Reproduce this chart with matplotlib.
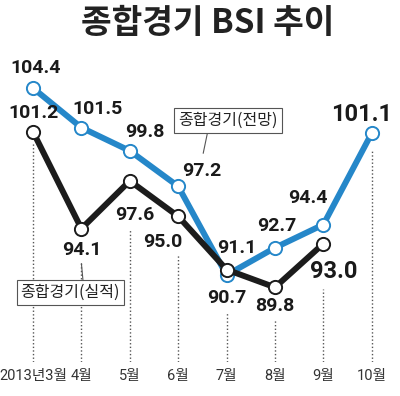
import matplotlib.pyplot as plt
from matplotlib.transforms import offset_copy

months = ['2013년3월', '4월', '5월', '6월', '7월', '8월', '9월', '10월']
forecast = [104.4, 101.5, 99.8, 97.2, 90.7, 92.7, 94.4, 101.1]   # 종합경기(전망)
actual = [101.2, 94.1, 97.6, 95.0, 91.1, 89.8, 93.0]            # 종합경기(실적)

BLUE = '#2587c9'
BLACK = '#1c1c1c'
NUM = ['Roboto', 'DejaVu Sans']
KR = ['Noto Sans CJK KR', 'DejaVu Sans']
TICK = ['Roboto', 'Noto Sans CJK KR']

fig = plt.figure(figsize=(4.0, 3.96), dpi=100)
ax = fig.add_axes([0, 34 / 396, 1, 1 - 34 / 396])
x = list(range(len(months)))
xa = x[:len(actual)]

ax.set_xlim(-0.682, 7.583)
ax.set_ylim(84.33, 110.85)
px = 362 / (110.85 - 84.33)   # pixels per unit

for s in ax.spines.values():
    s.set_visible(False)
ax.set_yticks([])
ax.set_xticks(x)
ax.set_xticklabels(months, family=TICK, fontsize=10.5, color='#333333')
ax.tick_params(axis='x', length=0, pad=5)

# dotted guides, starting below the lowest mark/label of each month
low = [min(f, a) for f, a in zip(forecast, actual)] + [forecast[-1]]
gap = [10, 32, 48, 38, 38, 32, 45, 17]
for i in x:
    ax.vlines(i, 84.33, low[i] - gap[i] / px, colors='#555555',
              linestyles=(0, (1, 1.6)), linewidth=1.0, zorder=1)

ax.plot(x, forecast, color=BLUE, lw=4.3, marker='o', ms=9.5,
        mfc='white', mec=BLUE, mew=1.4, zorder=3, solid_joinstyle='miter')
ax.plot(xa, actual, color=BLACK, lw=4.3, marker='o', ms=9.5,
        mfc='white', mec=BLACK, mew=1.4, zorder=4, solid_joinstyle='miter')

# value labels (offset in pixels, y up)
f_off = [(3, 20), (16, 19), (15, 19), (24, 15), (0, -23), (2, 22), (-16, 27), (-10, 19)]
a_off = [(0, 19), (0, -21), (5, -34), (-15, -26), (10, 22), (0, -19), (10, -28)]
for i, v in enumerate(forecast):
    big = i == len(forecast) - 1
    ax.annotate(f'{v:.1f}', (i, v), xytext=f_off[i], textcoords='offset pixels',
                ha='center', va='center', family=NUM, weight='bold',
                fontsize=17 if big else 14, color='#1a1a1a', zorder=5)
for i, v in enumerate(actual):
    big = i == len(actual) - 1
    ax.annotate(f'{v:.1f}', (i, v), xytext=a_off[i], textcoords='offset pixels',
                ha='center', va='center', family=NUM, weight='bold',
                fontsize=17 if big else 14, color='#1a1a1a', zorder=5)

# callout boxes
box = dict(boxstyle='square,pad=0.25', fc='white', ec='#555555', lw=0.8)
tip = offset_copy(ax.transData, fig, x=25, y=33, units='dots')
ax.annotate('종합경기(전망)', (3, forecast[3]), xycoords=tip,
            xytext=(25, 33), textcoords='offset pixels', ha='center', va='center',
            family=KR, fontsize=11.5, color='#222222', bbox=box, zorder=6,
            arrowprops=dict(arrowstyle='-', color='#555555', lw=0.8,
                            relpos=(0.3, 0), shrinkA=0, shrinkB=0))
tip2 = offset_copy(ax.transData, fig, x=0, y=-35, units='dots')
ax.annotate('종합경기(실적)', (1, actual[1]), xycoords=tip2,
            xytext=(-11, -29), textcoords='offset pixels', ha='center', va='center',
            family=KR, fontsize=11.5, color='#222222', bbox=box, zorder=6,
            arrowprops=dict(arrowstyle='-', color='#555555', lw=0.8,
                            relpos=(0.63, 1), shrinkA=0, shrinkB=0))

fig.text(0.52, 1 - 23 / 396, '종합경기 BSI 추이', ha='center', va='center',
         family=KR, weight='heavy', fontsize=24, color='#222222')

fig.savefig('out.png', dpi=100)
